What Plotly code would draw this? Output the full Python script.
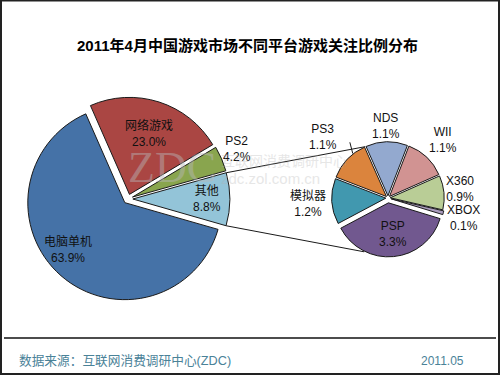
import math
import plotly.graph_objects as go

# ---- data ----
main_labels = ["电脑单机", "网络游戏", "PS2", "其他"]
main_values = [63.9, 23.0, 4.2, 8.8]
main_colors = ["#4572A7", "#AA4643", "#89A54E", "#93C4D8"]

sub_labels = ["PSP", "模拟器", "PS3", "NDS", "WII", "X360", "XBOX"]
sub_values = [3.3, 1.2, 1.1, 1.1, 1.1, 0.9, 0.1]
sub_colors = ["#71588F", "#4198AF", "#DB843D", "#93A9CF", "#D19392", "#B9CD96", "#A99BBD"]

title_text = "2011年4月中国游戏市场不同平台游戏关注比例分布"
source_text = "数据来源：互联网消费调研中心(ZDC)"
date_text = "2011.05"

W, H = 500, 375
FONT = "Arial, 'Liberation Sans', 'Noto Sans CJK SC', sans-serif"

# ---- layout geometry (pixels) ----
L_cx, L_cy, L_r, L_pull = 128, 199, 97, 0.05
R_cx, R_cy, R_r = 388, 198, 54
main_pull = [L_pull] * 4
sub_pull = [0.09, 0.04, 0.04, 0.04, 0.04, 0.04, 0.06]
rot_main, rot_sub = 106, 107
# label distance from centre (fraction of radius) and angle tweak (deg)
main_lab_f = [0.81, 0.71, 1.24, 0.81]
main_lab_da = [8.6, 0, -1.5, 0]
sub_lab_f = [0.67, 1.48, 1.65, 1.33, 1.48, 1.34, 1.44]
sub_lab_da = [-2.5, -1, 0, 0, 0, -1.5, 0]


def domain(cx, cy, r, maxpull):
    half = r * (1 + maxpull)
    return dict(x=[(cx - half) / W, (cx + half) / W],
                y=[1 - (cy + half) / H, 1 - (cy - half) / H])


def bisectors(values, rot):
    tot = sum(values)
    out, acc = [], 0.0
    for v in values:
        out.append(rot + 360 * (acc + v / 2) / tot)
        acc += v
    return out


def polar(cx, cy, r, ang):
    return cx + r * math.sin(math.radians(ang)), cy - r * math.cos(math.radians(ang))


fig = go.Figure()
fig.add_trace(go.Pie(
    labels=main_labels, values=main_values, sort=False, direction="clockwise",
    rotation=rot_main, pull=main_pull,
    marker=dict(colors=main_colors, line=dict(color="#1a1a1a", width=1)),
    textinfo="none",
    domain=domain(L_cx, L_cy, L_r, max(main_pull)),
    showlegend=False, hoverinfo="label+value",
))
fig.add_trace(go.Pie(
    labels=sub_labels, values=sub_values, sort=False, direction="clockwise",
    rotation=rot_sub, pull=sub_pull,
    marker=dict(colors=sub_colors, line=dict(color="#1a1a1a", width=1)),
    textinfo="none",
    domain=domain(R_cx, R_cy, R_r, max(sub_pull)),
    showlegend=False, hoverinfo="label+value",
))

annotations = []
for labels, values, rot, cx, cy, r, facs, das in [
        (main_labels, main_values, rot_main, L_cx, L_cy, L_r, main_lab_f, main_lab_da),
        (sub_labels, sub_values, rot_sub, R_cx, R_cy, R_r, sub_lab_f, sub_lab_da)]:
    for lab, val, b, f, da in zip(labels, values, bisectors(values, rot), facs, das):
        x, y = polar(cx, cy, r * f, b + da)
        annotations.append(dict(
            text=f"{lab}<br>{val:.1f}%", x=x / W, y=1 - y / H, xref="paper", yref="paper",
            showarrow=False, xanchor="center", yanchor="middle", align="center",
            font=dict(family=FONT, size=12, color="#111111")))

# ---- connector lines, computed from slice angles ----
tot = sum(main_values)
start = rot_main + 360 * sum(main_values[:3]) / tot
end = rot_main + 360 * sum(main_values) / tot
mid = (start + end) / 2
ox, oy = polar(L_cx, L_cy, L_pull * L_r, mid)
p_top = polar(ox, oy, L_r, start)
p_bot = polar(ox, oy, L_r, end)

stot = sum(sub_values)
a_top = rot_sub + 360 * sum(sub_values[:3]) / stot  # boundary PS3/NDS
a_bot = 180 - (a_top - 360)  # mirrored
q_top = polar(R_cx, R_cy, R_r * 1.04, a_top)
q_bot = polar(R_cx, R_cy, R_r * 1.09, a_bot)

shapes = []
for p, q in [(p_top, q_top), (p_bot, q_bot)]:
    shapes.append(dict(type="line", xref="paper", yref="paper",
                       x0=p[0] / W, y0=1 - p[1] / H, x1=q[0] / W, y1=1 - q[1] / H,
                       line=dict(color="#1a1a1a", width=1), layer="below"))
# PS3 leader line
b_ps3 = bisectors(sub_values, rot_sub)[2]
l0 = polar(R_cx, R_cy, R_r * 1.05, b_ps3 + 8)
l1 = polar(R_cx, R_cy, R_r * 1.25, b_ps3 + 12)
shapes.append(dict(type="line", xref="paper", yref="paper",
                   x0=l0[0] / W, y0=1 - l0[1] / H, x1=l1[0] / W, y1=1 - l1[1] / H,
                   line=dict(color="#1a1a1a", width=1)))
# footer rule
shapes.append(dict(type="line", xref="paper", yref="paper",
                   x0=4 / W, x1=496 / W, y0=1 - 338 / H, y1=1 - 338 / H,
                   line=dict(color="#111111", width=1.5)))
# outer frame
shapes.append(dict(type="rect", xref="paper", yref="paper",
                   x0=1 / W, x1=499 / W, y0=1 / H, y1=1 - 0.5 / H,
                   line=dict(color="#222222", width=2)))

annotations += [
    dict(text="<b>" + title_text + "</b>", x=247.5 / W, y=1 - 45 / H, xref="paper", yref="paper",
         showarrow=False, xanchor="center", yanchor="middle",
         font=dict(family="Arial, 'Noto Sans CJK SC'", size=15, color="#000000")),
    dict(text=source_text, x=17 / W, y=1 - 361 / H, xref="paper", yref="paper",
         showarrow=False, xanchor="left", yanchor="middle",
         font=dict(family=FONT, size=12.7, color="#4A8298")),
    dict(text=date_text, x=466 / W, y=1 - 361 / H, xref="paper", yref="paper",
         showarrow=False, xanchor="right", yanchor="middle",
         font=dict(family=FONT, size=12, color="#4A8298")),
    # watermark
    dict(text="ZDC", x=172 / W, y=1 - 168 / H, xref="paper", yref="paper",
         showarrow=False, xanchor="center", yanchor="middle", opacity=0.45,
         font=dict(family="'Liberation Serif', serif", size=44, color="#b8b8b8")),
    dict(text="互联网消费调研中心", x=219 / W, y=1 - 160 / H, xref="paper", yref="paper",
         showarrow=False, xanchor="left", yanchor="middle", opacity=0.3,
         font=dict(family="'Noto Sans CJK SC'", size=14, color="#b0b0b0")),
    dict(text="zdc.zol.com.cn", x=219 / W, y=1 - 178 / H, xref="paper", yref="paper",
         showarrow=False, xanchor="left", yanchor="middle", opacity=0.3,
         font=dict(family=FONT, size=15, color="#b0b0b0")),
]

fig.update_layout(
    width=W, height=H, margin=dict(l=0, r=0, t=0, b=0),
    paper_bgcolor="white", plot_bgcolor="white",
    shapes=shapes, annotations=annotations, showlegend=False,
)
fig.write_html("out.html", config={"displayModeBar": False},
               post_script="document.body.style.margin='0';document.body.style.overflow='hidden';")
